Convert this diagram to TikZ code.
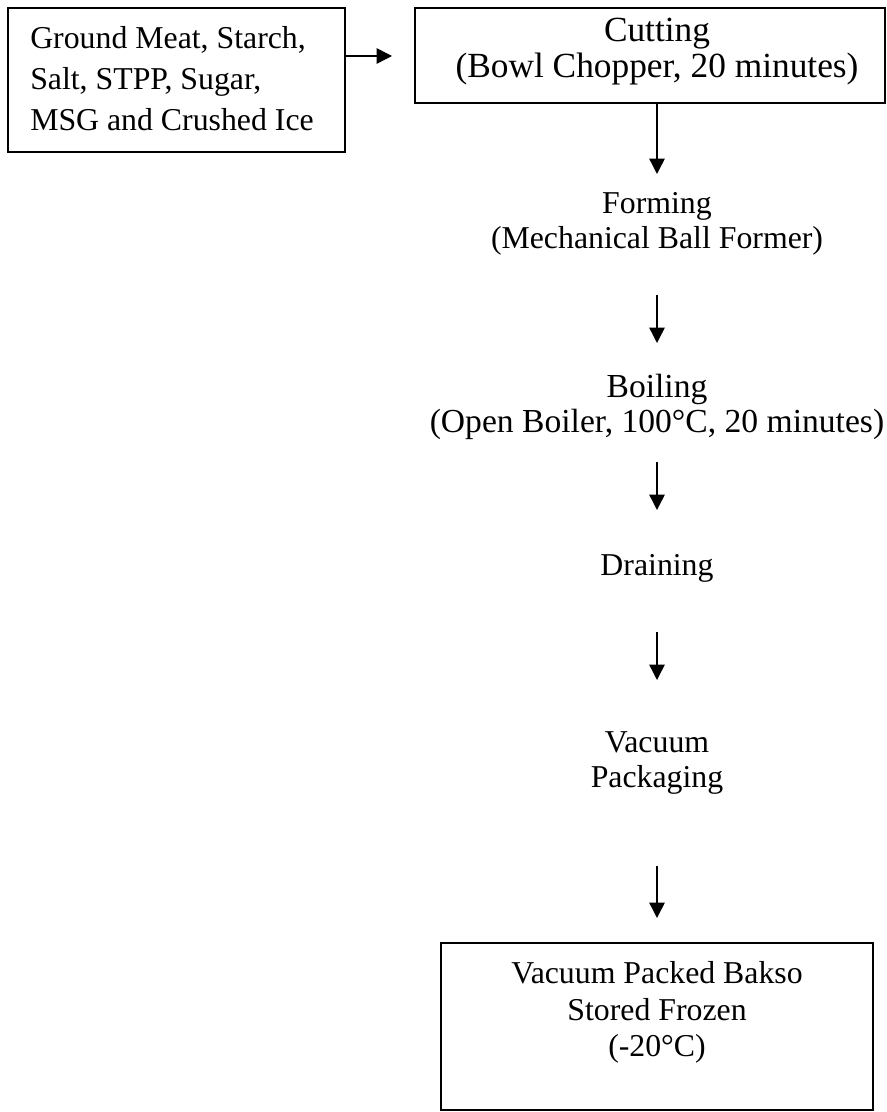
\documentclass[tikz,border=0pt]{standalone}
\usepackage{fontspec}
\setmainfont{Liberation Serif}
\usetikzlibrary{arrows.meta}
\begin{document}
\begin{tikzpicture}[x=0.75pt,y=-0.75pt,
  boxst/.style={draw, line width=1.6pt, inner sep=0pt},
  lbl/.style={inner sep=0pt, anchor=base, font=\fontsize{23.85}{27}\selectfont},
  lblbig/.style={lbl, font=\fontsize{26.5}{30}\selectfont},
  lblmid/.style={lbl, font=\fontsize{25.2}{28}\selectfont},
  lblw/.style={lbl, anchor=base west},
  flow/.style={line width=1.1pt, -{Triangle[length=11.5pt,width=11.5pt]}}]
\useasboundingbox (0,0) rectangle (887,1112);

% boxes
\node[boxst, minimum width=252.75pt, minimum height=108pt] (ing) at (176.5,80) {};
\node[boxst, minimum width=352.5pt, minimum height=71.25pt] (cut) at (650,55.5) {};
\node[boxst, minimum width=324pt, minimum height=125.25pt] (fin) at (657,1026.5) {};

% texts
\node[lblw] (ing1) at (30,49) {Ground Meat, Starch,};
\node[lblw] (ing2) at (30,90) {Salt, STPP, Sugar,};
\node[lblw] (ing3) at (30,131) {MSG and Crushed Ice};

\node[lblbig] (cut1) at (657,42) {Cutting};
\node[lblbig] (cut2) at (657,78) {(Bowl Chopper, 20 minutes)};

\node[lbl] (form1) at (657,214) {Forming};
\node[lbl] (form2) at (657,249) {(Mechanical Ball Former)};

\node[lblmid] (boil1) at (657,397) {Boiling};
\node[lblmid] (boil2) at (657,432) {(Open Boiler, 100°C, 20 minutes)};

\node[lbl] (drain) at (657,575) {Draining};

\node[lbl] (vac1) at (657,752) {Vacuum};
\node[lbl] (vac2) at (657,787) {Packaging};

\node[lbl] (fin1) at (657,983) {Vacuum Packed Bakso};
\node[lbl] (fin2) at (657,1020) {Stored Frozen};
\node[lbl] (fin3) at (657,1056) {(-20°C)};

% arrow end points
\coordinate (hend) at (392,56);
\coordinate (a1e) at (657,174);
\coordinate (a2s) at (657,295);
\coordinate (a2e) at (657,343);
\coordinate (a3s) at (657,462);
\coordinate (a3e) at (657,510);
\coordinate (a4s) at (657,632);
\coordinate (a4e) at (657,680);
\coordinate (a5s) at (657,866);
\coordinate (a5e) at (657,918);

% connectors
\draw[flow] (ing.east |- hend) -- (hend);
\draw[flow] (cut.south -| a1e) -- (a1e);
\draw[flow] (a2s) -- (a2e);
\draw[flow] (a3s) -- (a3e);
\draw[flow] (a4s) -- (a4e);
\draw[flow] (a5s) -- (a5e);
\end{tikzpicture}
\end{document}
